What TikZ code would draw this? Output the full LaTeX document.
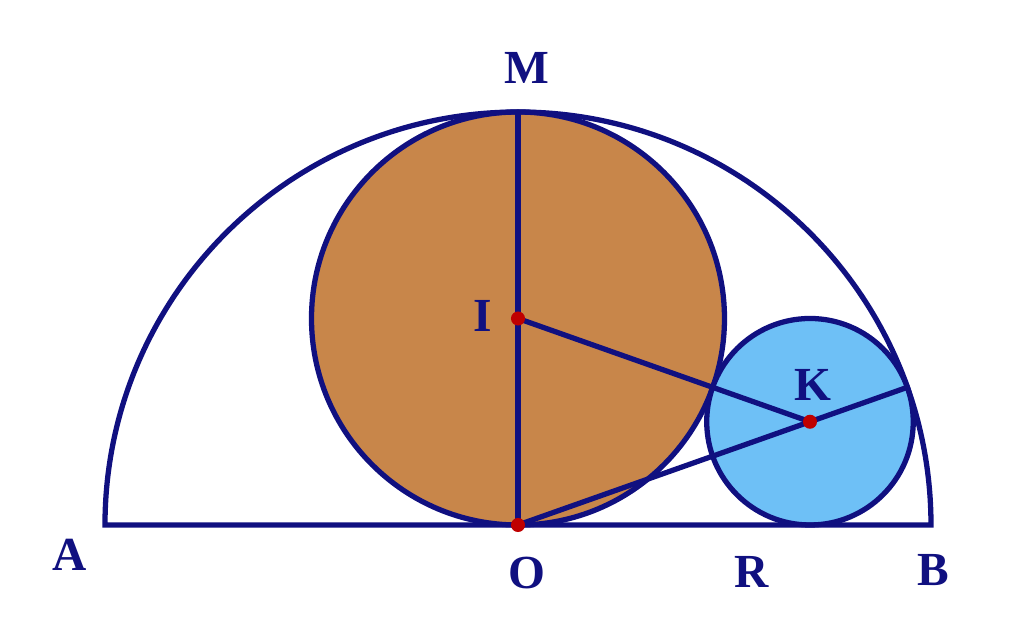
\documentclass[tikz,border=0pt]{standalone}
\usepackage{fontspec}
\setmainfont{Liberation Serif}
\usetikzlibrary{calc,positioning}

\definecolor{navy}{RGB}{16,16,128}
\definecolor{copper}{RGB}{200,134,74}
\definecolor{skyfill}{RGB}{110,192,246}

\begin{document}
\begin{tikzpicture}[
	outline/.style	={draw=navy,line width=1.5pt},
	bigdisk/.style	={outline,fill=copper},
	smalldisk/.style={outline,fill=skyfill},
	segment/.style	={navy,line width=1.5pt,line cap=round},
	dot/.style	={circle,fill=red!75!black,inner sep=0pt,minimum size=4pt},
	lbl/.style	={text=navy,font=\bfseries\fontsize{13.5}{13.5}\selectfont,inner sep=0pt},
	]
	\useasboundingbox (-5.18,-1.05) rectangle (5.06,5.25);
	
	\coordinate (O) at (0,0);
	\coordinate (A) at (-4.13,0);
	\coordinate (B) at (4.13,0);
	\coordinate (M) at (0,4.13);
	\coordinate (I) at (0,2.065);
	\coordinate (K) at (2.92,1.0325);
	\coordinate (T) at ($(O)!1.3333!(K)$);
	
	\draw [bigdisk] (I) circle (2.065);
	\draw [smalldisk] (K) circle (1.0325);
	\draw [segment] (B) arc (0:180:4.13) -- cycle;
	
	\draw [segment] (O) -- (M);
	\draw [segment] (I) -- (K);
	\draw [segment] (O) -- (T);
	
	\foreach \pt in {O, I, K}
	\node [dot] at (\pt) {};
	
	\node [lbl] (Mlbl) at (0.09,4.57) {M};
	\node [lbl] (Ilbl) at (-0.35,2.09) {I};
	\node [lbl] (Klbl) at (2.95,1.40) {K};
	\node [lbl] (Albl) at (-4.48,-0.30) {A};
	\node [lbl] (Olbl) at (0.09,-0.48) {O};
	\node [lbl] (Rlbl) at (2.34,-0.47) {R};
	\node [lbl] (Blbl) at (4.15,-0.45) {B};
\end{tikzpicture}
\end{document}
